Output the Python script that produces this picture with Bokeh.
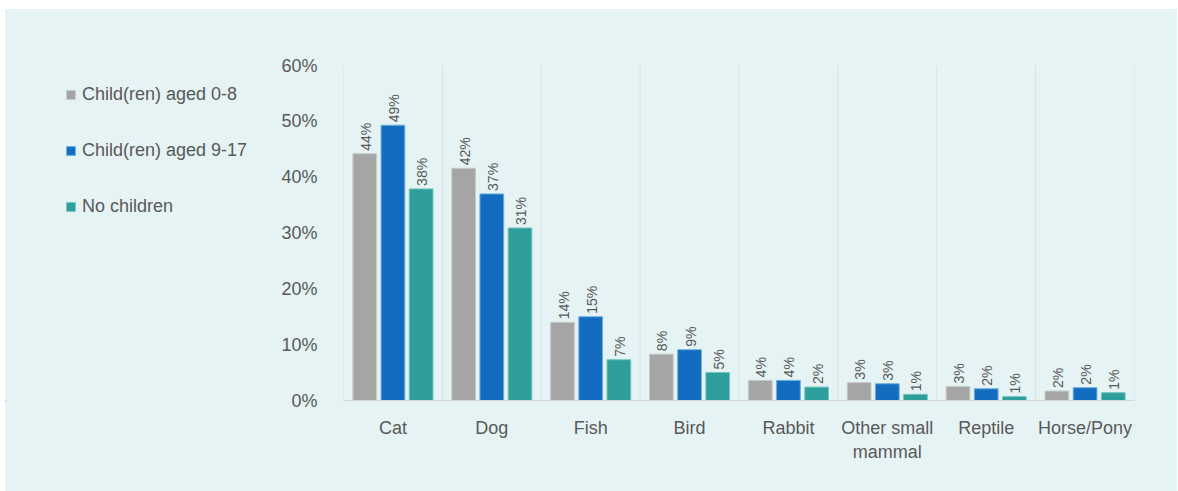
import math
from bokeh.plotting import figure
from bokeh.models import ColumnDataSource, FactorRange, Range1d, Span, Legend, LegendItem, NumeralTickFormatter, Spacer
from bokeh.transform import dodge
from bokeh.layouts import column, row
from bokeh.core.properties import value
from bokeh.embed import file_html
from bokeh.resources import INLINE

categories = ["Cat", "Dog", "Fish", "Bird", "Rabbit", "Other small\nmammal", "Reptile", "Horse/Pony"]
series_names = ["Child(ren) aged 0-8", "Child(ren) aged 9-17", "No children"]
aged_0_8 = [44.2, 41.6, 14.0, 8.3, 3.6, 3.2, 2.5, 1.7]
aged_9_17 = [49.3, 37.0, 15.0, 9.1, 3.6, 3.0, 2.1, 2.3]
no_children = [37.9, 30.9, 7.3, 5.0, 2.4, 1.1, 0.7, 1.4]
labels_0_8 = ["44%", "42%", "14%", "8%", "4%", "3%", "3%", "2%"]
labels_9_17 = ["49%", "37%", "15%", "9%", "4%", "3%", "2%", "2%"]
labels_none = ["38%", "31%", "7%", "5%", "2%", "1%", "1%", "1%"]
y_ticks = [0, 10, 20, 30, 40, 50, 60]

PANEL = "#e5f3f4"
TEXT = "#595959"
FONT = "Liberation Sans"
fills = ["#a5a5a5", "#136cbf", "#2e9e9c"]
outlines = ["#c9c9c9", "#6aaee0", "#74c4c0"]
offsets = [-0.285, 0.0, 0.285]

src = ColumnDataSource(dict(cat=categories, s0=aged_0_8, s1=aged_9_17, s2=no_children,
                            l0=labels_0_8, l1=labels_9_17, l2=labels_none))

# main chart
p = figure(width=902, height=482, x_range=FactorRange(*categories, range_padding=0),
           y_range=Range1d(0, 60), output_backend="svg", toolbar_location=None,
           background_fill_color=None, border_fill_color=None, outline_line_color=None,
           min_border_left=68, min_border_right=43, min_border_top=56, min_border_bottom=91)

for i, (col, lab) in enumerate([("s0", "l0"), ("s1", "l1"), ("s2", "l2")]):
    p.vbar(x=dodge("cat", offsets[i], range=p.x_range), top=col, width=0.24, source=src,
           fill_color=fills[i], line_color=outlines[i], line_width=1)
    p.text(x=dodge("cat", offsets[i], range=p.x_range), y=col, text=lab, source=src,
           angle=math.pi / 2, text_align="left", text_baseline="middle", x_offset=1, y_offset=-3,
           text_font=value(FONT), text_font_size="14px", text_color=TEXT)

for k in range(len(categories) + 1):
    p.add_layout(Span(location=k, dimension="height", line_color="#d3e3e5", line_width=1))

p.xgrid.grid_line_color = None
p.ygrid.grid_line_color = None

p.xaxis.axis_line_color = "#d9d9d9"
p.xaxis.major_tick_line_color = None
p.xaxis.minor_tick_line_color = None
p.xaxis.major_label_text_font = FONT
p.xaxis.major_label_text_font_size = "18px"
p.xaxis.major_label_text_color = TEXT
p.xaxis.major_label_standoff = 11

p.yaxis.axis_line_color = None
p.yaxis.major_tick_line_color = None
p.yaxis.minor_tick_line_color = None
p.yaxis.ticker = y_ticks
p.yaxis.formatter = NumeralTickFormatter(format="0")
p.yaxis.major_label_overrides = {t: f"{t}%" for t in y_ticks}
p.yaxis.major_label_text_font = FONT
p.yaxis.major_label_text_font_size = "18px"
p.yaxis.major_label_text_color = TEXT
p.yaxis.major_label_standoff = 20

# legend panel (swatch renderers kept outside the visible range)
lg = figure(width=270, height=482, x_range=Range1d(0, 1), y_range=Range1d(0, 1),
            output_backend="svg", toolbar_location=None,
            background_fill_color=None, border_fill_color=None, outline_line_color=None,
            min_border_left=0, min_border_right=0, min_border_top=56, min_border_bottom=91)
lg.axis.visible = False
lg.grid.visible = False
hidden = ColumnDataSource(dict(x=[-5.0], top=[-5.0]))
swatches = [lg.vbar(x="x", top="top", bottom=-6.0, width=0.1, source=hidden, fill_color=fills[i],
                    line_color=outlines[i], line_width=1) for i in range(3)]

legend = Legend(items=[LegendItem(label=series_names[i], renderers=[swatches[i]]) for i in range(3)],
                location=(60, 183), orientation="vertical", padding=0, margin=0, spacing=35,
                glyph_width=11, glyph_height=11, label_height=20, label_standoff=6,
                label_text_font=FONT, label_text_font_size="18px", label_text_color=TEXT,
                background_fill_alpha=0, border_line_color=None)
lg.add_layout(legend, "center")

inner = row(lg, p, spacing=0, styles={"background-color": PANEL})
layout = column(Spacer(height=9), row(Spacer(width=5), inner, spacing=0), spacing=0)
open("out.html", "w").write(file_html(layout, INLINE))
